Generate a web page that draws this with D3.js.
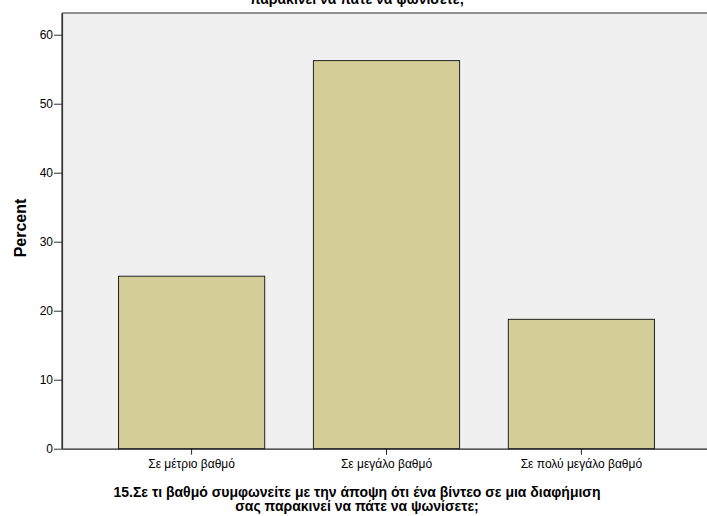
<!DOCTYPE html>
<html>
<head>
<meta charset="utf-8">
<script src="https://cdn.jsdelivr.net/npm/d3@7"></script>
<style>
  body { margin: 0; background: #fff; }
  text { font-family: "Liberation Sans", Arial, sans-serif; fill: #000; }
</style>
</head>
<body>
<div id="chart"></div>
<script>
// ---- data ----
const categories = ["Σε μέτριο βαθμό", "Σε μεγάλο βαθμό", "Σε πολύ μεγάλο βαθμό"];
const percents = [25, 56.25, 18.75];
const yTicks = [0, 10, 20, 30, 40, 50, 60];
const titleLines = [
    "15.Σε τι βαθμό συμφωνείτε με την άποψη ότι ένα βίντεο σε μια διαφήμιση",
    "σας παρακινεί να πάτε να ψωνίσετε;"
];
const topTitle = "παρακινεί να πάτε να ψωνίσετε;";

// ---- setup ----
const width = 707, height = 516;
const plot = { left: 62, top: 13, right: 711, bottom: 448.7 };
const barColor = "#d3ce97";

const svg = d3.select("#chart").append("svg")
    .attr("width", width)
    .attr("height", height);

const x = d3.scaleBand()
    .domain(categories)
    .range([plot.left, plot.right])
    .paddingInner(0.25)
    .paddingOuter(0.29);

const y = d3.scaleLinear()
    .domain([0, 63.15])
    .range([plot.bottom, plot.top]);

// plot background
svg.append("rect")
    .attr("x", plot.left).attr("y", plot.top)
    .attr("width", plot.right - plot.left)
    .attr("height", plot.bottom - plot.top)
    .attr("fill", "#f0f0f0");

// top border (gray)
svg.append("line")
    .attr("x1", plot.left).attr("x2", plot.right)
    .attr("y1", plot.top).attr("y2", plot.top)
    .attr("stroke", "#6e6e6e").attr("stroke-width", 1.5);

// bars
svg.selectAll("rect.bar")
    .data(percents)
    .enter()
    .append("rect")
    .attr("class", "bar")
    .attr("x", (d, i) => x(categories[i]))
    .attr("y", d => y(d))
    .attr("width", x.bandwidth())
    .attr("height", d => y(0) - y(d))
    .attr("fill", barColor)
    .attr("stroke", "#222")
    .attr("stroke-width", 1);

// y axis
const yAxis = svg.append("g")
    .attr("transform", `translate(${plot.left},0)`)
    .call(d3.axisLeft(y).tickValues(yTicks).tickSize(8).tickPadding(1).tickSizeOuter(0));
yAxis.select(".domain").attr("stroke", "#333").attr("stroke-width", 1.2);
yAxis.selectAll(".tick line").attr("stroke", "#333");
yAxis.selectAll(".tick text")
    .style("font-family", "'Liberation Sans', Arial, sans-serif")
    .style("font-size", "12px")
    .attr("fill", "#222");
// extend the left frame up to the top border
svg.append("line")
    .attr("x1", plot.left).attr("x2", plot.left)
    .attr("y1", plot.top).attr("y2", plot.bottom)
    .attr("stroke", "#333").attr("stroke-width", 1.2);

// x axis
const xAxis = svg.append("g")
    .attr("transform", `translate(0,${plot.bottom})`)
    .call(d3.axisBottom(x).tickSize(6).tickPadding(5).tickSizeOuter(0));
xAxis.select(".domain").attr("stroke", "#222").attr("stroke-width", 1.2);
xAxis.selectAll(".tick line").attr("stroke", "#222");
xAxis.selectAll(".tick text")
    .style("font-family", "'Liberation Sans', Arial, sans-serif")
    .style("font-size", "12px")
    .attr("fill", "#222");

// y label
svg.append("text")
    .attr("transform", "translate(26,228) rotate(-90)")
    .attr("text-anchor", "middle")
    .style("font-size", "16px")
    .style("font-weight", "bold")
    .text("Percent");

// bottom title
svg.selectAll("text.xtitle")
    .data(titleLines)
    .enter()
    .append("text")
    .attr("class", "xtitle")
    .attr("x", 357)
    .attr("y", (d, i) => 497 + i * 14)
    .attr("text-anchor", "middle")
    .style("font-size", "14px")
    .style("font-weight", "bold")
    .text(d => d);

// clipped top title
svg.append("text")
    .attr("x", 357)
    .attr("y", 4)
    .attr("text-anchor", "middle")
    .style("font-size", "14px")
    .style("font-weight", "bold")
    .text(topTitle);
</script>
</body>
</html>
